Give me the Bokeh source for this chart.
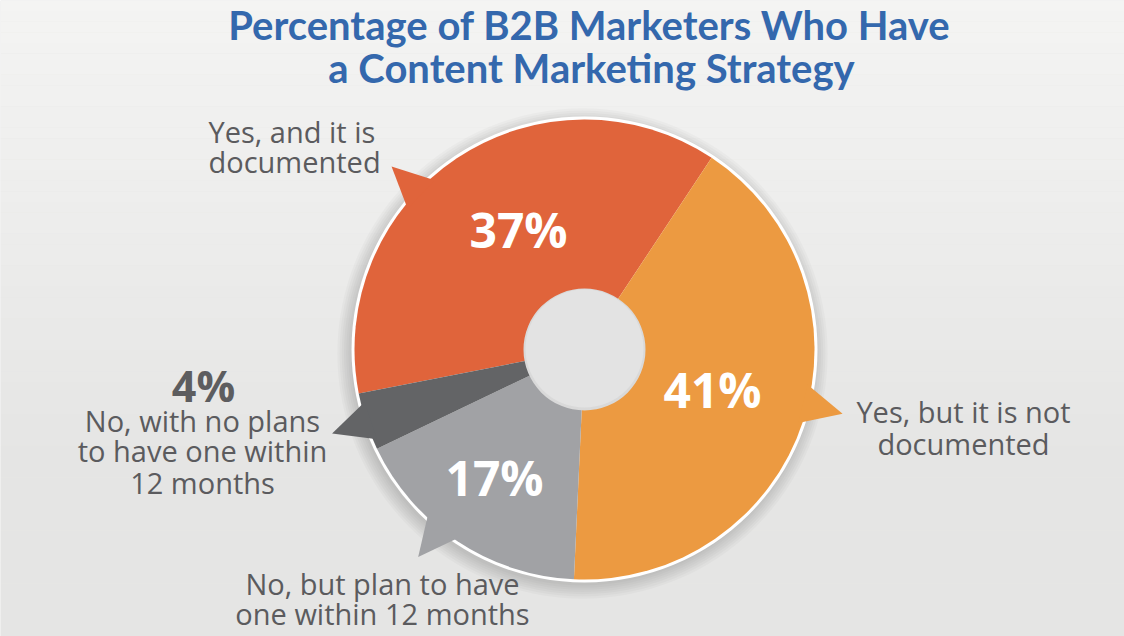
import numpy as np
from bokeh.plotting import figure
from bokeh.models import Range1d
from bokeh.core.properties import value
from bokeh.embed import file_html
from bokeh.resources import INLINE

# ---------------- data ----------------
categories = ["Yes, and it is documented", "Yes, but it is not documented",
              "No, but plan to have one within 12 months",
              "No, with no plans to have one within 12 months"]
percentages = [37, 41, 17, 4]
pct_labels = ["37%", "41%", "17%", "4%"]
slice_colors = ["#e0643b", "#ec9a41", "#a1a2a5", "#636466"]

# ---------------- layout (pixels, y measured from top) ----------------
W, H = 1124, 636
CX, CY = 584, 349          # donut centre
R_OUT, R_IN = 230, 60
START_CW_DEG = -101.0      # clockwise-from-top angle where first slice starts
callout_deg = [313.5, 104.0, 218.7, 251.6]   # direction of each speech-bubble tail
TAIL_R = 266
TAIL_HALF_DEG = 5.0
BASE_FIX = 0.42            # renderer baseline correction (fraction of font size)

def Y(py):
    return H - py

def YB(baseline, size):
    return H - (baseline - BASE_FIX * size)

p = figure(width=W, height=H, x_range=Range1d(0, W), y_range=Range1d(0, H),
           output_backend="svg", toolbar_location=None, min_border=0)
p.axis.visible = False
p.xgrid.visible = False
p.ygrid.visible = False
p.outline_line_color = None
p.background_fill_color = "#e6e6e5"
p.border_fill_color = "#e6e6e5"

# background vertical gradient (decorative bands)
nb = 60
edges = np.linspace(0, H, nb + 1)
top_c = np.array([0xf4, 0xf4, 0xf3])
bot_c = np.array([0xe5, 0xe5, 0xe4])
cols = []
for i in range(nb):
    t = min(1.0, ((edges[i] + edges[i + 1]) / 2) / 460.0)
    c = (top_c + (bot_c - top_c) * t).round().astype(int)
    cols.append("#%02x%02x%02x" % tuple(c))
p.quad(left=0, right=W, top=[Y(e) for e in edges[:-1]], bottom=[Y(e) for e in edges[1:]],
       fill_color=cols, line_color=None)

# soft shadow behind the donut
for k in range(7):
    p.circle(x=CX - 2, y=Y(CY + 4), radius=R_OUT + 2 + k * 2.2,
             fill_color="black", fill_alpha=0.022, line_color=None)

# white rim
p.circle(x=CX, y=Y(CY), radius=R_OUT + 3, fill_color="white", line_color=None)

# slices
vals = np.array(percentages, dtype=float)
fr = vals / vals.sum()
cum = np.concatenate([[0], np.cumsum(fr)])
theta1 = np.radians(START_CW_DEG) + cum[:-1] * 2 * np.pi
theta2 = np.radians(START_CW_DEG) + cum[1:] * 2 * np.pi
p.wedge(x=CX, y=Y(CY), radius=R_OUT,
        start_angle=list(np.pi / 2 - theta1), end_angle=list(np.pi / 2 - theta2),
        direction="clock", fill_color=slice_colors, line_color=None)

# speech-bubble tails
xs, ys = [], []
for d in callout_deg:
    a = np.radians(d)
    b1 = np.radians(d - TAIL_HALF_DEG)
    b2 = np.radians(d + TAIL_HALF_DEG)
    rb = R_OUT - 4
    xs.append([CX + rb * np.sin(b1), CX + TAIL_R * np.sin(a), CX + rb * np.sin(b2)])
    ys.append([Y(CY - rb * np.cos(b1)), Y(CY - TAIL_R * np.cos(a)), Y(CY - rb * np.cos(b2))])
p.patches(xs=xs, ys=ys, fill_color=slice_colors, line_color=None)

# hole
p.circle(x=CX, y=Y(CY), radius=R_IN + 1, fill_color="#d9d9d9", line_color=None)
p.circle(x=CX, y=Y(CY - 1), radius=R_IN - 1, fill_color="#e3e3e3", line_color=None)

# percentage labels inside slices (first three)
PS = 48
pct_x = [518, 712, 494]
pct_base = [249, 409, 497]
p.text(x=pct_x, y=[YB(b, PS) for b in pct_base], text=pct_labels[:3],
       text_font=value("Open Sans"), text_font_style="bold", text_font_size=f"{PS}px",
       text_color="white", text_align="center", text_baseline="alphabetic")

# title
TS = 40
p.text(x=[589, 591], y=[YB(41, TS), YB(84, TS)],
       text=["Percentage of B2B Marketers Who Have", "a Content Marketing Strategy"],
       text_font=value("Lato"), text_font_style="bold", text_font_size=f"{TS}px",
       text_color="#3468ad", text_align="center", text_baseline="alphabetic")

LS = 29
LBL = dict(text_font=value("Open Sans"), text_font_size=f"{LS}px", text_color="#5b5b5e",
           text_baseline="alphabetic")
# Yes, and it is documented
p.text(x=[208, 208], y=[YB(143, LS), YB(173, LS)], text=["Yes, and it is", "documented"],
       text_align="left", **LBL)
# Yes, but it is not documented
p.text(x=[963, 963], y=[YB(423, LS), YB(455, LS)], text=["Yes, but it is not", "documented"],
       text_align="center", **LBL)
# No, but plan...
p.text(x=[382, 382], y=[YB(595, LS), YB(625, LS)],
       text=["No, but plan to have", "one within 12 months"], text_align="center", **LBL)
# 4% block
FS = 43
p.text(x=[203], y=[YB(403, FS)], text=[pct_labels[3]], text_font=value("Open Sans"),
       text_font_style="bold", text_font_size=f"{FS}px", text_color="#5d5d5f",
       text_align="center", text_baseline="alphabetic")
p.text(x=[202, 202, 202], y=[YB(432, LS), YB(462, LS), YB(494, LS)],
       text=["No, with no plans", "to have one within", "12 months"],
       text_align="center", **LBL)

open("out.html", "w").write(file_html(p, INLINE))
